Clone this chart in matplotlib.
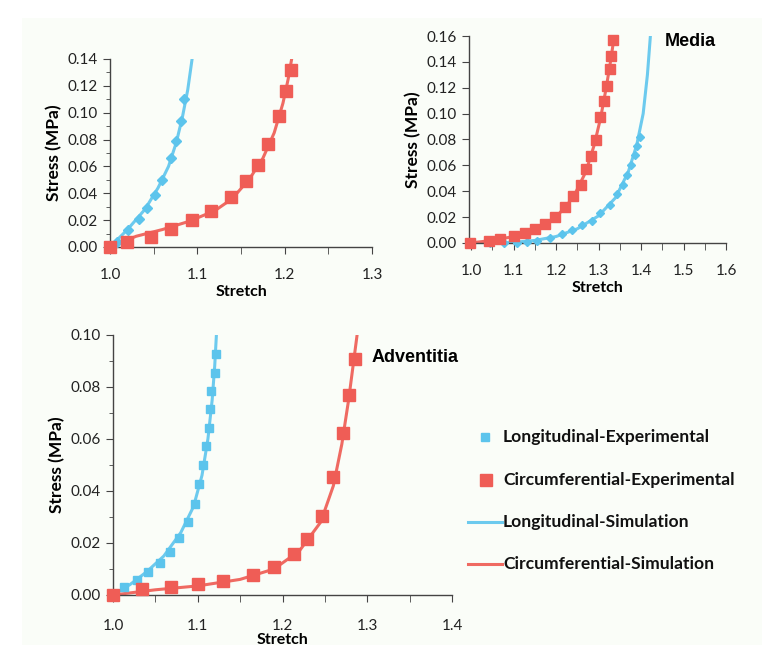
import matplotlib
matplotlib.use("Agg")
import matplotlib.pyplot as plt
from matplotlib.lines import Line2D
from matplotlib.patches import Rectangle

# ---- data ----
# panel 1 (top-left)
p1_long_exp_x = [1.0, 1.008, 1.021, 1.033, 1.042, 1.051, 1.060, 1.070, 1.076, 1.081, 1.085]
p1_long_exp_y = [0.0, 0.004, 0.013, 0.021, 0.029, 0.039, 0.050, 0.066, 0.079, 0.094, 0.110]
p1_circ_exp_x = [1.0, 1.020, 1.047, 1.070, 1.094, 1.116, 1.139, 1.156, 1.169, 1.181, 1.193, 1.201, 1.207]
p1_circ_exp_y = [0.0, 0.004, 0.0075, 0.0137, 0.0199, 0.0269, 0.0374, 0.0491, 0.0608, 0.0765, 0.0972, 0.1163, 0.1315]
p1_long_sim_x = [1.0, 1.020, 1.040, 1.055, 1.067, 1.076, 1.083, 1.089, 1.094]
p1_long_sim_y = [0.0, 0.013, 0.028, 0.044, 0.060, 0.078, 0.097, 0.117, 0.140]
p1_circ_sim_x = [1.0, 1.030, 1.060, 1.090, 1.120, 1.140, 1.160, 1.175, 1.188, 1.198, 1.204, 1.208]
p1_circ_sim_y = [0.0, 0.008, 0.013, 0.019, 0.027, 0.036, 0.051, 0.066, 0.085, 0.107, 0.125, 0.140]

# panel 2 (Media)
p2_long_exp_x = [1.045, 1.077, 1.108, 1.132, 1.155, 1.185, 1.213, 1.238, 1.261, 1.285, 1.304,
                 1.326, 1.344, 1.357, 1.367, 1.377, 1.385, 1.391, 1.398]
p2_long_exp_y = [0.0, 0.0, 0.0, 0.0008, 0.0018, 0.0041, 0.0072, 0.0098, 0.0139, 0.0172, 0.0229,
                 0.0293, 0.0378, 0.0450, 0.0525, 0.0600, 0.0682, 0.0751, 0.0823]
p2_circ_exp_x = [0.997, 1.042, 1.068, 1.100, 1.126, 1.151, 1.173, 1.197, 1.220, 1.240, 1.258,
                 1.271, 1.283, 1.294, 1.304, 1.312, 1.320, 1.326, 1.329, 1.334]
p2_circ_exp_y = [0.0, 0.0013, 0.0033, 0.0057, 0.0077, 0.0108, 0.0147, 0.0201, 0.0278, 0.0360,
                 0.0450, 0.0574, 0.0669, 0.0798, 0.0973, 0.1099, 0.1217, 0.1343, 0.1449, 0.1570]
p2_long_sim_x = [0.997, 1.100, 1.150, 1.200, 1.250, 1.300, 1.340, 1.370, 1.390, 1.405, 1.415, 1.422]
p2_long_sim_y = [0.0, 0.0005, 0.002, 0.005, 0.011, 0.021, 0.035, 0.055, 0.076, 0.100, 0.130, 0.160]
p2_circ_sim_x = [0.997, 1.050, 1.100, 1.150, 1.200, 1.240, 1.270, 1.290, 1.305, 1.318, 1.328, 1.337]
p2_circ_sim_y = [0.0, 0.002, 0.005, 0.010, 0.020, 0.035, 0.055, 0.076, 0.097, 0.120, 0.140, 0.160]

# panel 3 (Adventitia)
p3_long_exp_x = [1.0, 1.013, 1.028, 1.041, 1.056, 1.067, 1.078, 1.088, 1.097, 1.102, 1.106,
                 1.110, 1.113, 1.114, 1.116, 1.120, 1.121]
p3_long_exp_y = [0.0, 0.0029, 0.0058, 0.0090, 0.0124, 0.0167, 0.0221, 0.0281, 0.0350, 0.0428,
                 0.0500, 0.0573, 0.0644, 0.0714, 0.0786, 0.0853, 0.0928]
p3_circ_exp_x = [1.0, 1.034, 1.069, 1.100, 1.130, 1.165, 1.190, 1.213, 1.229, 1.247, 1.259,
                 1.271, 1.278, 1.285]
p3_circ_exp_y = [0.0, 0.0022, 0.0032, 0.0042, 0.0055, 0.0076, 0.0106, 0.0158, 0.0214, 0.0304,
                 0.0453, 0.0622, 0.0768, 0.0906]
p3_long_sim_x = [1.0, 1.020, 1.040, 1.060, 1.080, 1.095, 1.105, 1.112, 1.117, 1.120, 1.122]
p3_long_sim_y = [0.0, 0.004, 0.009, 0.015, 0.024, 0.034, 0.046, 0.060, 0.075, 0.088, 0.100]
p3_circ_sim_x = [1.0, 1.050, 1.100, 1.150, 1.190, 1.220, 1.245, 1.260, 1.270, 1.278, 1.284, 1.288]
p3_circ_sim_y = [0.0, 0.002, 0.0035, 0.006, 0.010, 0.017, 0.028, 0.042, 0.058, 0.075, 0.090, 0.100]

legend_labels = ["Longitudinal-Experimental", "Circumferential-Experimental",
                 "Longitudinal-Simulation", "Circumferential-Simulation"]

blue = "#5cc4ec"
red = "#ef5d56"
blue_line = "#6ccaee"
red_line = "#ef6a62"
bg = "#fafdf8"

plt.rcParams["font.family"] = ["Lato", "DejaVu Sans"]

fig = plt.figure(figsize=(7.8, 6.58), dpi=100)
fig.patch.set_facecolor("white")
fig.add_artist(Rectangle((22 / 780, 1 - 645 / 658), 740 / 780, 627 / 658,
                         transform=fig.transFigure, facecolor=bg, edgecolor="none", zorder=0))


def style_axes(ax, xlim, ylim, xticks, yticks, yminor, xminor):
    ax.set_facecolor("none")
    ax.set_xlim(*xlim)
    ax.set_ylim(*ylim)
    ax.set_xticks(xticks)
    ax.set_xticklabels(["%.1f" % t for t in xticks])
    ax.set_xticks(xminor, minor=True)
    ax.set_yticks(yticks)
    ax.set_yticklabels(["%.2f" % t for t in yticks])
    ax.set_yticks(yminor, minor=True)
    for s in ["top", "right"]:
        ax.spines[s].set_visible(False)
    for s in ["left", "bottom"]:
        ax.spines[s].set_color("#444444")
        ax.spines[s].set_linewidth(1.0)
    ax.tick_params(axis="both", which="both", direction="out", color="#444444",
                   labelsize=11, labelcolor="#222222")
    ax.tick_params(axis="y", which="major", length=5)
    ax.tick_params(axis="y", which="minor", length=3)
    ax.tick_params(axis="x", which="both", length=5, pad=10)
    ax.set_xlabel("Stretch", fontsize=11.5, fontweight="bold", labelpad=2)
    ax.set_ylabel("Stress (MPa)", fontsize=12.5, fontweight="bold", labelpad=4)
    ax.margins(0)


# panel 1
ax1 = fig.add_axes([110 / 780, 1 - 247 / 658, 262 / 780, 188 / 658])
ax1.plot(p1_long_sim_x, p1_long_sim_y, color=blue_line, lw=2.2, zorder=2)
ax1.plot(p1_circ_sim_x, p1_circ_sim_y, color=red_line, lw=2.2, zorder=2)
ax1.plot(p1_long_exp_x, p1_long_exp_y, "D", color=blue, ms=4.8, zorder=3, clip_on=False)
ax1.plot(p1_circ_exp_x, p1_circ_exp_y, "s", color=red, ms=8.5, zorder=4, clip_on=False)
style_axes(ax1, (1.0, 1.3), (0, 0.14), [1.0, 1.1, 1.2, 1.3],
           [0, 0.02, 0.04, 0.06, 0.08, 0.10, 0.12, 0.14],
           [0.01, 0.03, 0.05, 0.07, 0.09, 0.11, 0.13], [1.05, 1.15, 1.25])

# panel 2 (Media)
ax2 = fig.add_axes([469 / 780, 1 - 243 / 658, 257 / 780, 207 / 658])
ax2.plot(p2_long_sim_x, p2_long_sim_y, color=blue_line, lw=2.2, zorder=2)
ax2.plot(p2_circ_sim_x, p2_circ_sim_y, color=red_line, lw=2.2, zorder=2)
ax2.plot(p2_long_exp_x, p2_long_exp_y, "D", color=blue, ms=4.0, zorder=3, clip_on=False)
ax2.plot(p2_circ_exp_x, p2_circ_exp_y, "s", color=red, ms=7.2, zorder=4, clip_on=False)
style_axes(ax2, (0.995, 1.6), (0, 0.16), [1.0, 1.1, 1.2, 1.3, 1.4, 1.5, 1.6],
           [0, 0.02, 0.04, 0.06, 0.08, 0.10, 0.12, 0.14, 0.16], [],
           [1.05, 1.15, 1.25, 1.35, 1.45, 1.55])
fig.text(665 / 780, 1 - 42 / 658, "Media", fontsize=13, fontweight="bold",
         family=["Liberation Sans", "DejaVu Sans"], va="center", ha="left")

# panel 3 (Adventitia)
ax3 = fig.add_axes([113 / 780, 1 - 595 / 658, 339 / 780, 260 / 658])
ax3.plot(p3_long_sim_x, p3_long_sim_y, color=blue_line, lw=2.2, zorder=2)
ax3.plot(p3_circ_sim_x, p3_circ_sim_y, color=red_line, lw=2.2, zorder=2)
ax3.plot(p3_long_exp_x, p3_long_exp_y, "s", color=blue, ms=5.2, zorder=3, clip_on=False)
ax3.plot(p3_circ_exp_x, p3_circ_exp_y, "s", color=red, ms=8.0, zorder=4, clip_on=False)
style_axes(ax3, (1.0, 1.4), (0, 0.10), [1.0, 1.1, 1.2, 1.3, 1.4],
           [0, 0.02, 0.04, 0.06, 0.08, 0.10],
           [0.01, 0.03, 0.05, 0.07, 0.09], [1.05, 1.15, 1.25, 1.35])
ax3.tick_params(axis="x", which="both", pad=12)
ax3.xaxis.labelpad = 0
fig.text(372 / 780, 1 - 358 / 658, "Adventitia", fontsize=13, fontweight="bold",
         family=["Liberation Sans", "DejaVu Sans"], va="center", ha="left")

# legend, drawn by hand in figure coordinates
rows = [437, 480, 522, 564]
W, H = 780.0, 658.0
fig.add_artist(Line2D([485 / W], [1 - rows[0] / H], marker="s", ms=5.2, color=blue,
                      linestyle="none", transform=fig.transFigure))
fig.add_artist(Line2D([486 / W], [1 - rows[1] / H], marker="s", ms=8.0, color=red,
                      linestyle="none", transform=fig.transFigure))
fig.add_artist(Line2D([468 / W, 502 / W], [1 - rows[2] / H] * 2, lw=2.2, color=blue_line,
                      transform=fig.transFigure))
fig.add_artist(Line2D([468 / W, 502 / W], [1 - rows[3] / H] * 2, lw=2.2, color=red_line,
                      transform=fig.transFigure))
for r, lab in zip(rows, legend_labels):
    fig.text(503 / W, 1 - r / H, lab, fontsize=12.6, fontweight="bold",
             color="#111111", va="center", ha="left")

fig.savefig("out.png", dpi=100, facecolor=fig.get_facecolor())
